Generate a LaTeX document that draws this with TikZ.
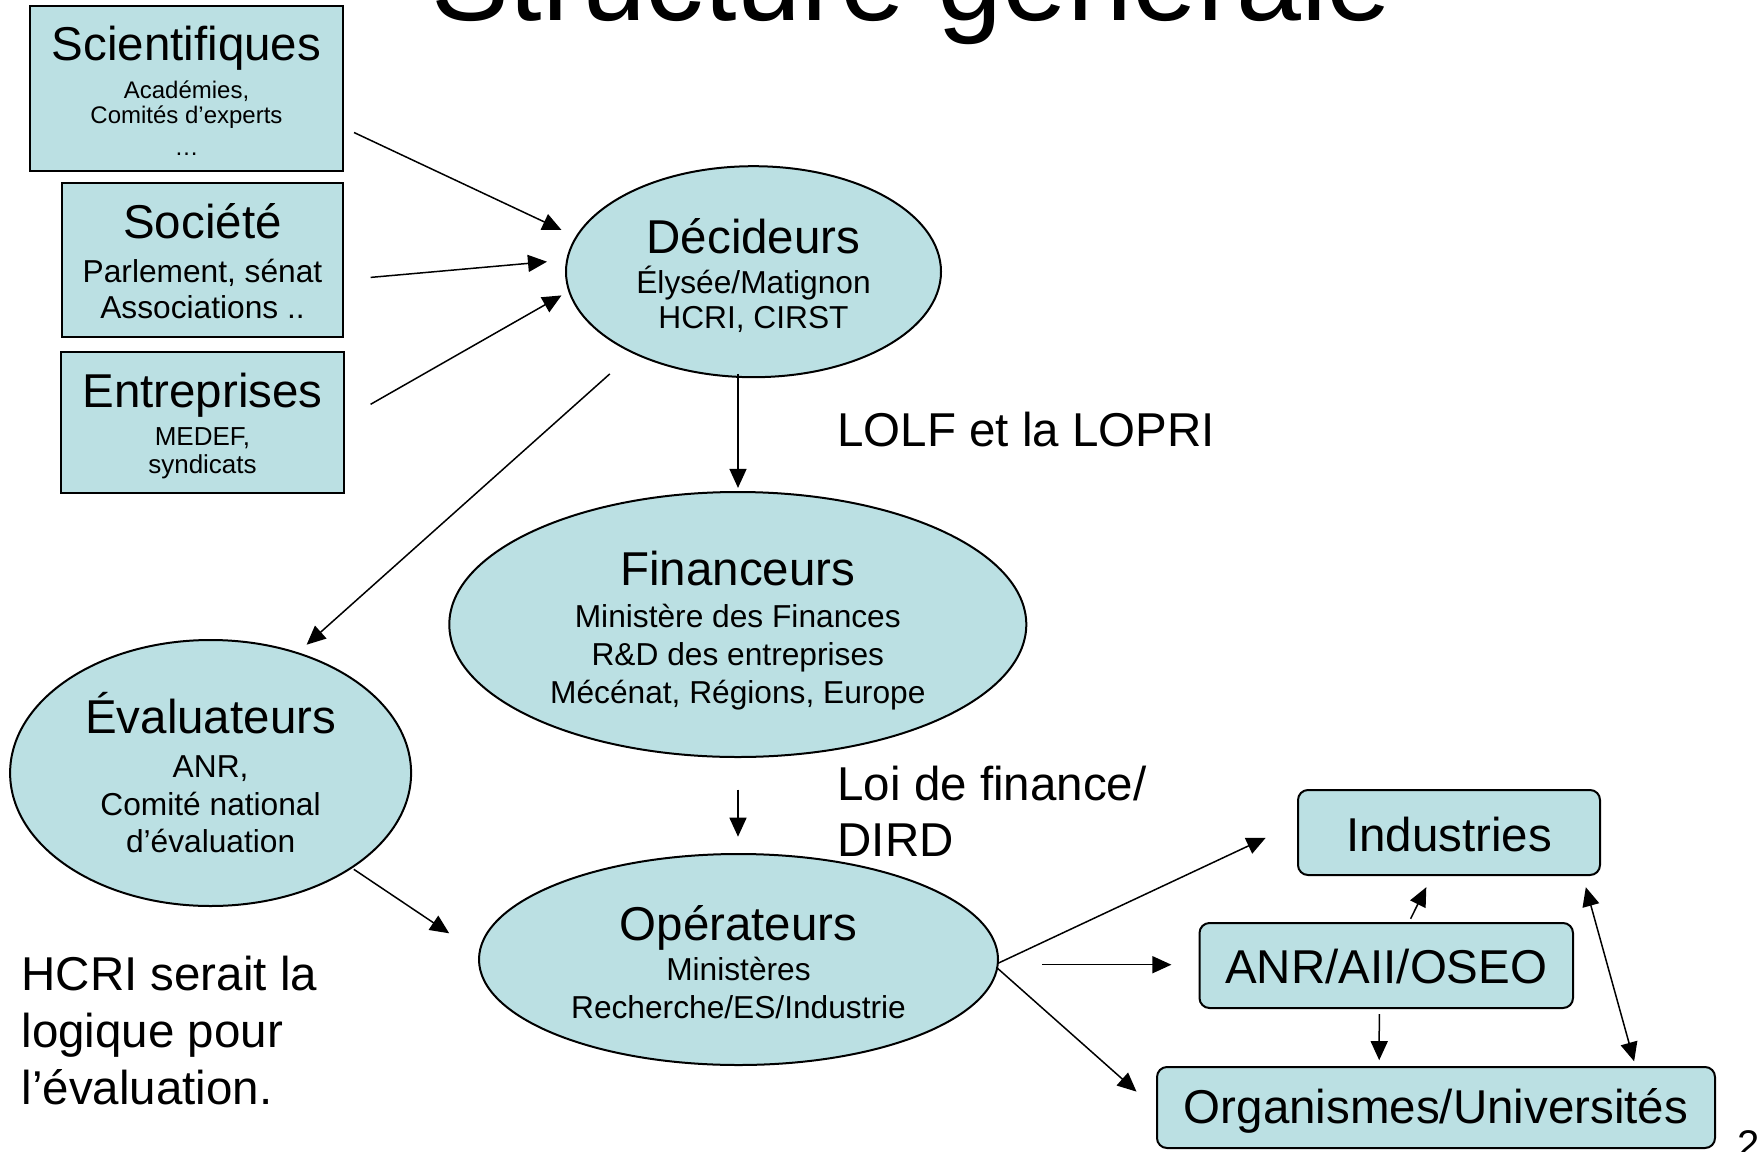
\documentclass[tikz,border=0pt]{standalone}
\usepackage{fontspec}
\setmainfont{Liberation Sans}
\usetikzlibrary{shapes.geometric,arrows.meta,calc}
\definecolor{tealc}{RGB}{187,224,227}
\newcommand{\fTitle}{\fontsize{116.7}{0}\selectfont}
\newcommand{\fHead}{\fontsize{47.5}{0}\selectfont}
\newcommand{\fSub}{\fontsize{31.7}{0}\selectfont}
\newcommand{\fSmall}{\fontsize{24}{0}\selectfont}
\newcommand{\fSmallB}{\fontsize{26}{0}\selectfont}
\newcommand{\stackset}{\lineskiplimit=-1000pt\lineskip=0pt}
\begin{document}
\begin{tikzpicture}[x=1pt,y=-1pt,
  box/.style={rectangle, draw=black, line width=2pt, fill=tealc, inner sep=0pt, outer sep=0pt, align=center, font=\fSmall\stackset},
  subbox/.style={box, font=\fSub\stackset},
  rbox/.style={box, rounded corners=10pt, font=\fHead\stackset},
  oval/.style={ellipse, draw=black, line width=2pt, fill=tealc, inner sep=0pt, outer sep=0pt, align=center, font=\fSub\stackset},
  lbl/.style={inner sep=0pt, outer sep=0pt, font=\fHead\stackset},
  arr/.style={line width=1.5pt, -{Triangle[length=19pt,width=17pt]}},
  darr/.style={line width=1.5pt, {Triangle[length=19pt,width=17pt]}-{Triangle[length=19pt,width=17pt]}}]
\path[use as bounding box, clip] (0,0) rectangle (1761,1151);
\fill[white] (0,0) rectangle (1761,1151);

% title (cut by the top edge)
\node[lbl, font=\fTitle, anchor=base] (title) at (912,20) {Structure générale};

% left boxes
\node[box, minimum width=313pt, minimum height=165pt, text height=133pt, text depth=0pt] (sci) at (186.5,88.5)
  {{\fHead Scientifiques}\\[38pt]Académies,\\[25pt]Comités d’experts\\[32pt]…};
\node[subbox, minimum width=281pt, minimum height=154pt, text height=116pt, text depth=0pt] (soc) at (202.5,260)
  {{\fHead Société}\\[44pt]Parlement, sénat\\[36pt]Associations ..};
\node[box, font=\fSmallB\stackset, minimum width=283pt, minimum height=141pt, text height=102pt, text depth=0pt] (ent) at (202.5,422)
  {{\fHead Entreprises}\\[38pt]MEDEF,\\[28pt]syndicats};

% ellipses
\node[oval, minimum width=375pt, minimum height=211pt, text height=112.6pt, text depth=0pt] (dec) at (753.5,271.7)
  {{\fHead Décideurs}\\[40pt]Élysée/Matignon\\[35pt]HCRI, CIRST};
\node[oval, minimum width=577pt, minimum height=265pt, text height=157pt, text depth=0pt] (fin) at (737.8,624.5)
  {{\fHead Financeurs}\\[42pt]Ministère des Finances\\[38pt]R\&D des entreprises\\[38pt]Mécénat, Régions, Europe};
\node[oval, minimum width=401pt, minimum height=266pt, text height=158pt, text depth=0pt] (eva) at (210.6,773)
  {{\fHead Évaluateurs}\\[44pt]ANR,\\[38pt]Comité national\\[37pt]d’évaluation};
\node[oval, minimum width=519pt, minimum height=211pt, text height=117pt, text depth=0pt] (ope) at (738.5,959.5)
  {{\fHead Opérateurs}\\[40pt]Ministères\\[38pt]Recherche/ES/Industrie};

% right rounded boxes
\node[rbox, minimum width=302pt, minimum height=85pt, text height=37pt, text depth=0pt] (ind) at (1449,832.5) {Industries};
\node[rbox, minimum width=373.5pt, minimum height=85pt, text height=35pt, text depth=0pt] (anr) at (1386.25,965.5) {ANR/AII/OSEO};
\node[rbox, minimum width=558pt, minimum height=81pt, text height=31pt, text depth=0pt] (org) at (1436,1107.5) {Organismes/Universités};

% free labels
\node[lbl, anchor=base west] (lolf) at (837.5,446) {LOLF et la LOPRI};
\node[lbl, anchor=base west, align=left] (loi) at (837.5,856) {Loi de finance/\\[56pt]DIRD};
\node[lbl, anchor=base west, align=left] (hcri) at (21.5,1104) {HCRI serait la\\[57pt]logique pour\\[57pt]l’évaluation.};
\node[lbl, font=\fontsize{40}{0}\selectfont, anchor=base west] (pg) at (1737,1158) {2};

% connectors
\draw[arr] ($(sci.east)+(11,44)$) -- ($(dec.west)+(-4.5,-41.7)$);
\draw[arr] ($(soc.east)+(27.6,17.4)$) -- ($(dec.west)+(-19,-10)$);
\draw[arr] ($(ent.east)+(26.6,-17.7)$) -- ($(dec.west)+(-4.5,23.7)$);
\draw[arr] ($(dec.south)+(-143.7,-3.3)$) -- ($(eva.north)+(96,4.7)$);
\draw[arr] ($(dec.south)+(-15.5,-3.3)$) -- ($(fin.north)+(0.2,-4.1)$);
\draw[arr] ($(fin.south)+(0.2,32.5)$) -- ($(ope.north)+(-0.5,-17.3)$);
\draw[arr] ($(eva.south)+(143.2,-36.7)$) -- ($(ope.west)+(-29.8,-26.2)$);
\draw[arr] ($(ope.east)+(-0.7,4.1)$) -- ($(ind.west)+(-32.3,5.3)$);
\draw[arr] ($(ope.east)+(44.2,5.2)$) -- ($(anr.west)+(-28.1,-0.8)$);
\draw[arr] ($(ope.east)+(-0.7,8.6)$) -- ($(org.west)+(-20.5,-15.9)$);
\draw[arr] ($(anr.north)+(24.35,-4.3)$) -- ($(ind.south)+(-22.7,12.2)$);
\draw[arr] ($(anr.south)+(-7,6.2)$) -- ($(org.north)+(-56.8,-6.8)$);
\draw[darr] ($(ind.south)+(136.8,12.2)$) -- ($(org.north)+(198.1,-5.7)$);
\end{tikzpicture}
\end{document}
